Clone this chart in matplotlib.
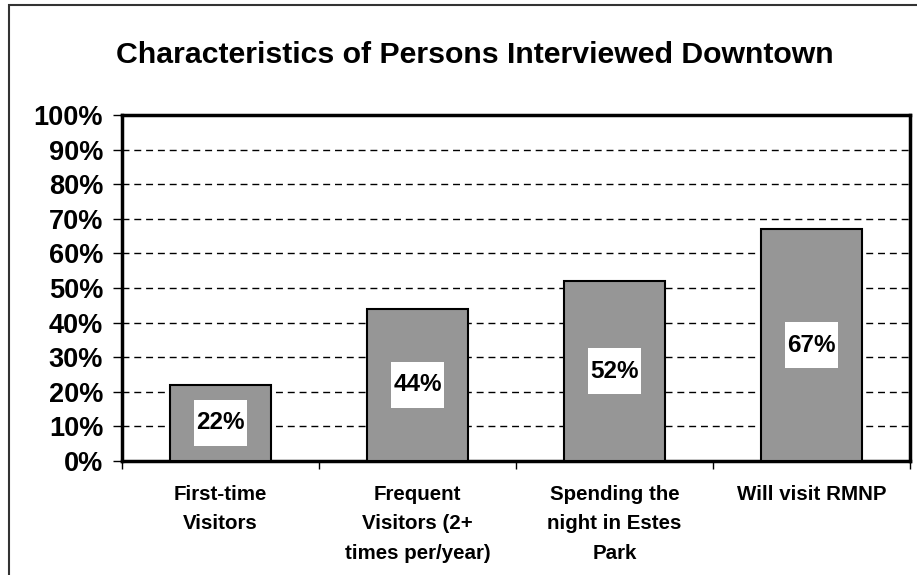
import matplotlib.pyplot as plt
from matplotlib.patches import Rectangle
import numpy as np

categories = ["First-time\nVisitors", "Frequent\nVisitors (2+\ntimes per/year)",
              "Spending the\nnight in Estes\nPark", "Will visit RMNP"]
values = [22, 44, 52, 67]
labels = ["22%", "44%", "52%", "67%"]
yticks = [0, 10, 20, 30, 40, 50, 60, 70, 80, 90, 100]

plt.rcParams['font.family'] = ['Liberation Sans', 'DejaVu Sans']
plt.rcParams['font.weight'] = 'bold'

fig = plt.figure(figsize=(9.17, 5.75), dpi=100)
ax = fig.add_axes([0.1330, 0.1983, 0.8594, 0.6017])

x = np.arange(len(values))
ax.bar(x, values, width=0.51, color='#969696', edgecolor='black', linewidth=1.5, zorder=3)

# white label boxes centred on each bar
for xi, v, lab in zip(x, values, labels):
    ax.add_patch(Rectangle((xi - 0.135, v / 2 - 6.7), 0.27, 13.4,
                           facecolor='white', edgecolor='none', zorder=4))
    ax.text(xi, v / 2, lab, ha='center', va='center', fontsize=17.5,
            fontweight='bold', zorder=5)

ax.set_xlim(-0.5, len(values) - 0.5)
ax.set_ylim(0, 100)
ax.set_yticks(yticks)
ax.set_yticklabels([f"{t}%" for t in yticks], fontsize=19.5, fontweight='bold')
ax.tick_params(axis='y', length=6.5, width=1, pad=7, direction='out')

ax.set_xticks(x)
ax.set_xticklabels(categories, fontsize=14.8, fontweight='bold', linespacing=1.7)
ax.tick_params(axis='x', which='major', length=0, pad=17)
ax.set_xticks(np.arange(len(values) + 1) - 0.5, minor=True)
ax.tick_params(axis='x', which='minor', length=6, width=1, direction='out')

ax.yaxis.grid(True, linestyle=(0, (5, 3.5)), color='black', linewidth=1, zorder=0)
ax.set_axisbelow(True)
for s in ax.spines.values():
    s.set_linewidth(2.5)

fig.text(0.518, 0.890, "Characteristics of Persons Interviewed Downtown",
         ha='center', va='baseline', fontsize=21.8, fontweight='bold')

# outer chart frame (left and top edges visible)
fig.patches.append(Rectangle((9 / 917, -0.1), 1.2, 1.1 - 5 / 575,
                             transform=fig.transFigure, fill=False,
                             edgecolor='#333333', linewidth=1.5))

fig.savefig("out.png", dpi=100)
